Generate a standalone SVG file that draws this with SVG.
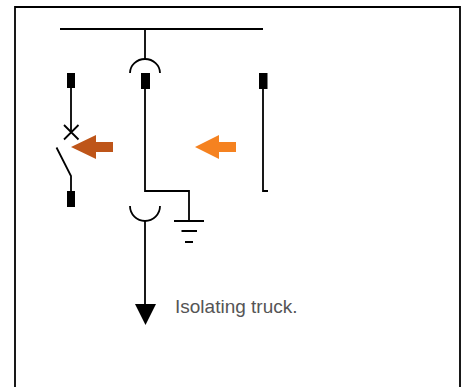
<svg xmlns="http://www.w3.org/2000/svg" width="469" height="387" viewBox="0 0 469 387">
<style>
.l{fill:none;stroke:#000;stroke-width:1.800}
.t{fill:#000}
text{font-family:"Liberation Sans",Arial,sans-serif;font-size:19px;fill:#555}
</style>
<rect width="469" height="387" fill="#fff"/>
<path id="frame" d="M15 387V7H460V387" fill="none" stroke="#000" stroke-width="1.800"/>
<g id="connectors">
<path class="l" d="M60 29H263"/>
<path class="l" d="M145 29V59"/>
<path class="l" d="M145 88V191H189V221"/>
<path class="l" d="M145 221V306"/>
<path class="l" d="M71 88V132"/>
<path class="l" d="M71 191V176L56.500 147.500"/>
<path class="l" d="M263 88V191H268"/>
</g>
<g id="left-feeder">
<rect class="t" x="67" y="73" width="8" height="15"/>
<rect class="t" x="67" y="191" width="8" height="16"/>
<path class="l" d="M64 125L78.500 139.500M78.500 125L64 139.500"/>
</g>
<g id="upper-contact">
<path class="l" d="M130 73A15 14 0 0 1 160 73"/>
<rect class="t" x="141" y="73" width="9" height="16"/>
</g>
<g id="right-feeder">
<rect class="t" x="259" y="73" width="8.500" height="16"/>
</g>
<g id="lower-contact">
<path class="l" d="M130 206A15 15 0 0 0 160 206"/>
</g>
<g id="earth">
<path class="l" d="M174 221H204M181.500 231H197M185 242H193"/>
</g>
<g id="output-arrow">
<path class="t" d="M135 304H156L145.500 325Z"/>
</g>
<g id="arrow-brown">
<path fill="#BE5519" d="M71 147L96 135V142H113V152H96V159Z"/>
</g>
<g id="arrow-orange">
<path fill="#F58220" d="M195 147L219 135V142H236V152H219V159Z"/>
</g>
<g id="label">
<text x="175" y="312.500">Isolating truck.</text>
</g>
</svg>
